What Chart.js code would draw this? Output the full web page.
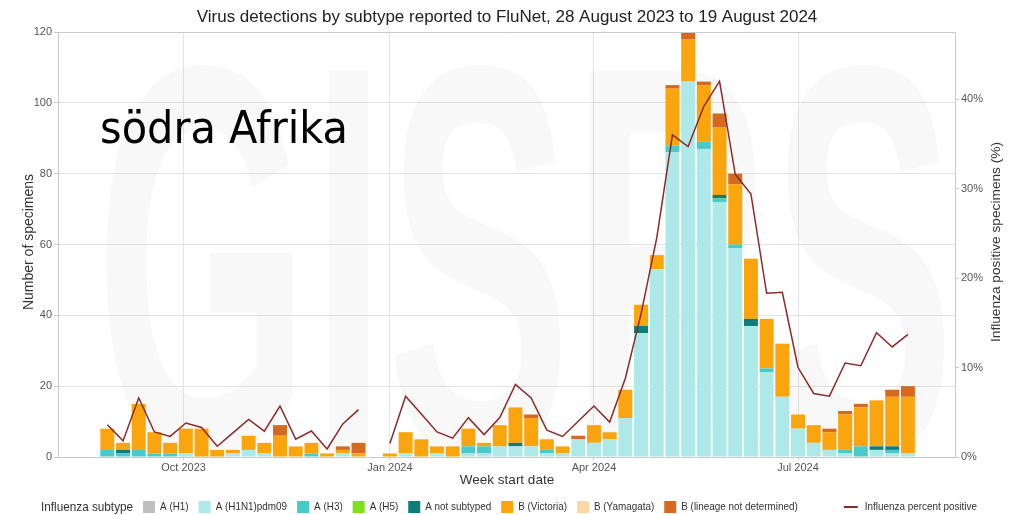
<!DOCTYPE html>
<html>
<head>
<meta charset="utf-8">
<script src="https://cdn.jsdelivr.net/npm/chart.js@4.4.1/dist/chart.umd.min.js"></script>
<style>
  html, body { margin: 0; padding: 0; background: #ffffff; }
  #wrap { width: 1016px; height: 515px; position: relative; }
</style>
</head>
<body>
<div id="wrap"><canvas id="chart" width="1016" height="515"></canvas></div>
<script>
// Weekly FluNet counts, weeks starting Monday 28 Aug 2023 (52 weeks)
const firstWeek = '2023-08-28';
const weekCount = 52;
const axisStart = '2023-08-06';
const axisEnd = '2024-09-09';

const tickDates = ['2023-10-01', '2024-01-01', '2024-04-01', '2024-07-01'];
const tickLabels = ['Oct 2023', 'Jan 2024', 'Apr 2024', 'Jul 2024'];

const subtypeNames = ['A (H1)', 'A (H1N1)pdm09', 'A (H3)', 'A (H5)', 'A not subtyped',
                      'B (Victoria)', 'B (Yamagata)', 'B (lineage not determined)'];
const subtypeColors = ['#bfbfbf', '#aee9e9', '#48caca', '#7fe11c', '#0b7e7b',
                       '#fba50e', '#fcd8a6', '#d4691f'];

const aH1 = [0,0,0,0,0,0,0,0,0,0,0,0,0,0,0,0,0,null,
             0,0,0,0,0,0,0,0,0,0,0,0,0,0,0,0,0,0,0,0,0,0,0,0,0,0,0,0,0,0,0,0,0,0];
const aH1N1 = [0,0,0,0,0,1,0,0,1,2,1,0,0,0,0,1,0,null,
               0,1,0,1,0,1,1,3,3,3,1,1,5,4,5,11,35,53,86,106,87,72,59,37,24,17,8,4,2,1,0,2,1,1];
const aH3 = [2,1,2,1,1,0,0,0,0,0,0,0,0,1,0,0,0,null,
             0,0,0,0,0,2,2,0,0,0,1,0,0,0,0,0,0,0,2,0,2,1,1,0,1,0,0,0,0,1,3,0,1,0];
const aH5 = [0,0,0,0,0,0,0,0,0,0,0,0,0,0,0,0,0,null,
             0,0,0,0,0,0,0,0,0,0,0,0,0,0,0,0,0,0,0,0,0,0,0,0,0,0,0,0,0,0,0,0,0,0];
const aNotSubtyped = [0,1,0,0,0,0,0,0,0,0,0,0,0,0,0,0,0,null,
                      0,0,0,0,0,0,0,0,1,0,0,0,0,0,0,0,2,0,0,0,0,1,0,2,0,0,0,0,0,0,0,1,1,0];
const bVictoria = [6,2,13,6,3,7,8,2,1,4,3,6,3,3,1,1,1,null,
                   1,6,5,2,3,5,1,6,10,8,3,2,0,5,2,8,6,4,16,12,16,19,17,17,14,15,4,5,5,10,11,13,14,16];
const bYamagata = [0,0,0,0,0,0,0,0,0,0,0,0,0,0,0,0,0,null,
                   0,0,0,0,0,0,0,0,0,0,0,0,0,0,0,0,0,0,0,0,0,0,0,0,0,0,0,0,0,0,0,0,0,0];
const bNotDetermined = [0,0,0,0,0,0,0,0,0,0,0,3,0,0,0,1,3,null,
                        0,0,0,0,0,0,0,0,0,1,0,0,1,0,0,0,0,0,1,2,1,4,3,0,0,0,0,0,1,1,1,0,2,3];

// Influenza percent positive (right axis)
const percentPositive = [3.6,1.8,6.6,2.8,2.3,3.8,3.3,1.2,2.7,4.2,2.9,5.7,2.0,2.9,0.9,3.7,5.3,null,
                         1.5,6.8,4.8,2.8,2.1,4.4,2.5,4.4,8.1,6.6,3.0,2.3,4.0,5.7,3.9,8.8,16.0,24.5,36.0,34.7,
                         39.2,42.0,31.6,29.4,18.3,18.4,10.0,7.1,6.8,10.5,10.2,13.9,12.3,13.7];

const subtypeSeries = [aH1, aH1N1, aH3, aH5, aNotSubtyped, bVictoria, bYamagata, bNotDetermined];

const DAY = 86400000;
const dayOf = d => Math.round((Date.parse(d) - Date.parse(firstWeek)) / DAY);
const weekDays = Array.from({ length: weekCount }, (_, i) => i * 7);
const tickValues = tickDates.map(dayOf);

const lineColor = '#8c2a2a';
const gridColor = '#e4e4e4';
const borderColor = '#c9c9c9';
const tickColor = '#555555';

const barSets = subtypeSeries.map((vals, k) => ({
  type: 'bar',
  label: subtypeNames[k],
  data: weekDays.map((x, i) => ({ x, y: vals[i] })),
  backgroundColor: subtypeColors[k],
  borderWidth: 0,
  barPercentage: 0.89,
  categoryPercentage: 1.0,
  yAxisID: 'y',
  order: 1
}));

const lineSet = {
  type: 'line',
  label: 'Influenza percent positive',
  data: weekDays.map((x, i) => ({ x, y: percentPositive[i] })),
  borderColor: lineColor,
  borderWidth: 1.5,
  pointRadius: 0,
  tension: 0,
  spanGaps: false,
  yAxisID: 'y2',
  order: 0
};

function textAt(ctx, text, x, y, font, color, align, sx, rot) {
  ctx.save();
  ctx.font = font;
  ctx.fillStyle = color;
  ctx.textBaseline = 'middle';
  ctx.textAlign = align;
  ctx.translate(x, y);
  if (rot) ctx.rotate(rot);
  ctx.scale(sx, 1);
  ctx.fillText(text, 0, 0);
  const w = ctx.measureText(text).width * sx;
  ctx.restore();
  return w;
}

const decor = {
  id: 'decor',
  beforeDatasetsDraw(chart) {
    const { ctx, chartArea: a } = chart;
    // faint GISRS watermark
    ctx.save();
    ctx.beginPath();
    ctx.rect(a.left, a.top, a.right - a.left, a.bottom - a.top);
    ctx.clip();
    ctx.font = 'bold 560px "Liberation Sans"';
    ctx.textBaseline = 'alphabetic';
    ctx.textAlign = 'left';
    const w = ctx.measureText('GISRS').width;
    ctx.translate(95, 456);
    ctx.scale(860 / w, 1);
    ctx.fillStyle = 'rgba(0,0,0,0.026)';
    ctx.fillText('GISRS', 0, 0);
    ctx.restore();
  },
  afterDraw(chart) {
    const { ctx, chartArea: a } = chart;
    // top frame line
    ctx.save();
    ctx.strokeStyle = borderColor;
    ctx.lineWidth = 1;
    ctx.beginPath();
    ctx.moveTo(a.left, a.top + 0.5);
    ctx.lineTo(a.right, a.top + 0.5);
    ctx.stroke();
    ctx.restore();

    // title
    textAt(ctx, 'Virus detections by subtype reported to FluNet, 28 August 2023 to 19 August 2024',
           507, 17, '17px "Liberation Sans"', '#222222', 'center', 1);

    // region name
    ctx.save();
    ctx.font = '45px "DejaVu Sans"';
    const rw = ctx.measureText('södra Afrika').width;
    ctx.restore();
    textAt(ctx, 'södra Afrika', 100, 131, '45px "DejaVu Sans"', '#000000', 'left', Math.min(1, 248 / rw));

    // axis titles
    textAt(ctx, 'Number of specimens', 29, 242, '14px "Liberation Sans"', '#333333', 'center', 1, -Math.PI / 2);
    textAt(ctx, 'Week start date', 507, 480, '13.5px "Liberation Sans"', '#333333', 'center', 1);
    textAt(ctx, 'Influenza positive specimens (%)', 996, 242, '13.7px "Liberation Sans"', '#333333', 'center', 1, -Math.PI / 2);

    // legend
    const ly = 507;
    let x = 41;
    x += textAt(ctx, 'Influenza subtype', x, ly, '13.5px "Liberation Sans"', '#333333', 'left', 0.87);
    x += 10;
    subtypeNames.forEach((name, k) => {
      ctx.fillStyle = subtypeColors[k];
      ctx.fillRect(x, ly - 6, 12, 12);
      x += 17;
      x += textAt(ctx, name, x, ly, '11.5px "Liberation Sans"', '#333333', 'left', 0.86);
      x += 10;
    });
    x += 36;
    ctx.save();
    ctx.strokeStyle = lineColor;
    ctx.lineWidth = 2;
    ctx.beginPath();
    ctx.moveTo(x, ly);
    ctx.lineTo(x + 14, ly);
    ctx.stroke();
    ctx.restore();
    x += 21;
    textAt(ctx, 'Influenza percent positive', x, ly, '11.5px "Liberation Sans"', '#333333', 'left', 0.86);
  }
};

new Chart(document.getElementById('chart'), {
  data: { datasets: [...barSets, lineSet] },
  options: {
    responsive: false,
    devicePixelRatio: 1,
    animation: false,
    layout: { padding: { top: 32, left: 0, right: 0, bottom: 0 } },
    plugins: { legend: { display: false }, tooltip: { enabled: false }, title: { display: false } },
    scales: {
      x: {
        type: 'linear',
        min: dayOf(axisStart),
        max: dayOf(axisEnd),
        stacked: true,
        offset: false,
        afterBuildTicks: s => { s.ticks = tickValues.map(v => ({ value: v })); },
        afterFit: s => { s.height = 58; },
        ticks: {
          autoSkip: false,
          maxRotation: 0,
          padding: 1,
          color: tickColor,
          font: { family: 'Liberation Sans', size: 11 },
          callback: v => tickLabels[tickValues.indexOf(v)]
        },
        grid: { offset: false, color: gridColor, tickLength: 3, tickColor: borderColor },
        border: { color: borderColor }
      },
      y: {
        position: 'left',
        min: 0,
        max: 120,
        stacked: true,
        afterFit: s => { s.width = 58; },
        ticks: { stepSize: 20, padding: 2, color: tickColor, font: { family: 'Liberation Sans', size: 11 } },
        grid: { color: gridColor, tickLength: 4, tickColor: borderColor },
        border: { color: borderColor }
      },
      y2: {
        position: 'right',
        min: 0,
        max: 47.5,
        afterFit: s => { s.width = 61; },
        ticks: {
          stepSize: 10,
          includeBounds: false,
          padding: 2,
          color: tickColor,
          font: { family: 'Liberation Sans', size: 11 },
          callback: v => v + '%'
        },
        grid: { drawOnChartArea: false, tickLength: 4, tickColor: borderColor },
        border: { color: borderColor }
      }
    }
  },
  plugins: [decor]
});
</script>
</body>
</html>
